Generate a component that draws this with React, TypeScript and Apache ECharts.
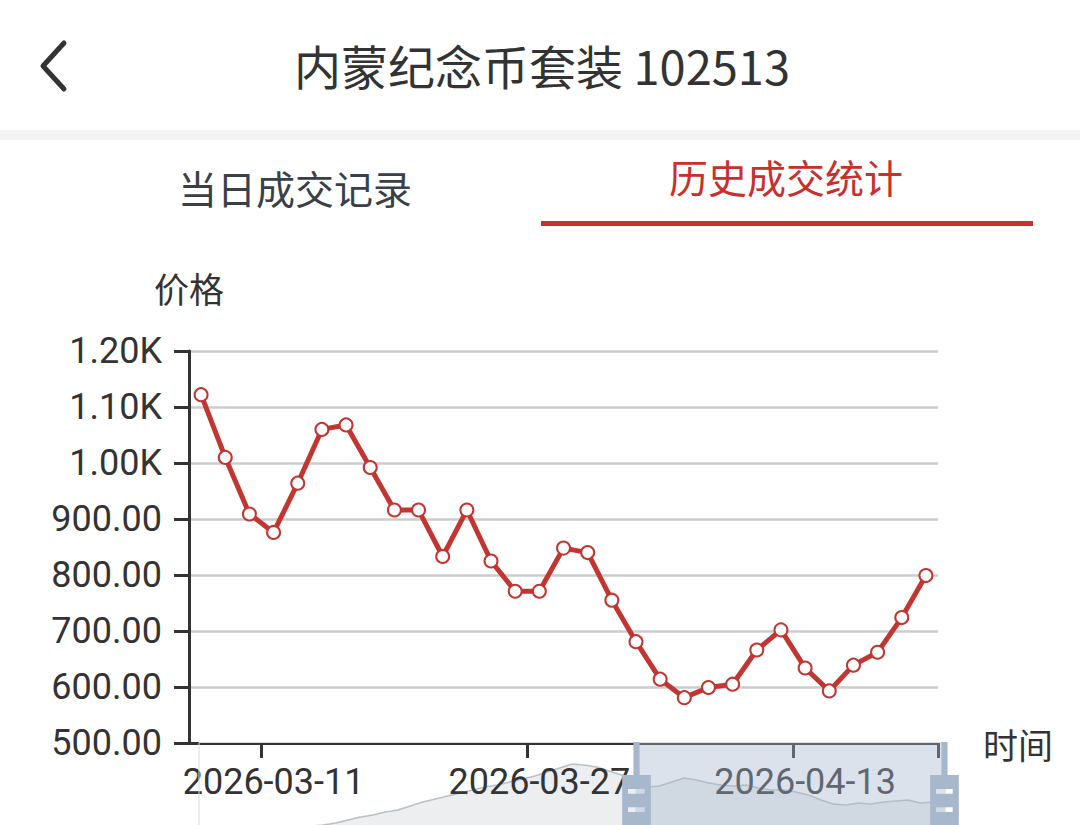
import React, { useEffect, useRef } from 'react';
import * as echarts from 'echarts';

const dates = [
  '2026-03-06', '2026-03-07', '2026-03-09', '2026-03-11', '2026-03-12', '2026-03-14',
  '2026-03-15', '2026-03-17', '2026-03-18', '2026-03-20', '2026-03-21', '2026-03-23',
  '2026-03-24', '2026-03-26', '2026-03-27', '2026-03-29', '2026-03-30', '2026-04-01',
  '2026-04-02', '2026-04-04', '2026-04-05', '2026-04-07', '2026-04-08', '2026-04-10',
  '2026-04-11', '2026-04-13', '2026-04-14', '2026-04-16', '2026-04-17', '2026-04-19',
  '2026-04-20',
];

const prices = [
  1122, 1010, 909, 876, 964, 1060, 1068, 992, 916, 916, 833, 916, 825, 771, 771, 848,
  840, 755, 681, 614, 581, 599, 605, 666, 702, 634, 593, 639, 662, 724, 799,
];

// longer history drawn only as the slider's data shadow
const shadowValues = [
  410, 400, 410, 420, 430, 440, 450, 470, 490, 510, 520, 540, 570, 600, 620, 650,
  670, 710, 750, 780, 810, 840, 870, 900, 920, 950, 980, 1010, 1050, 1090, 1130,
  1120, 1100, 1060, 1020, 960, 900, 910, 950, 990, 970, 940, 920, 910, 920, 890,
  870, 870, 850, 820, 770, 730, 720, 740, 730, 750, 760, 770, 740, 750, 790,
];
const shadowLabels = shadowValues.map((_, i) => String(i));

const labelledIndices = [3, 14, 25];
const yMin = 500;
const yMax = 1200;
const yStep = 100;
const zoomStart = 58.5;
const zoomEnd = 100;

const titleText = '内蒙纪念币套装 102513';
const tabLeft = '当日成交记录';
const tabRight = '历史成交统计';

const RED = '#c23531';
const TAB_RED = '#c9302c';
const FONT = 'Roboto, "Noto Sans CJK SC", sans-serif';
const CJK = '"Noto Sans CJK SC", sans-serif';

const V4_HANDLE =
  'path://M8.2,13.6V3.9H6.3v9.7H3.1v14.9h3.3v9.7h1.8v-9.7h3.3V13.6H8.2z M9.7,24.4H4.8v-1.4h4.9V24.4z M9.7,19.1H4.8v-1.4h4.9V19.1z';

function fmt(v: number) {
  if (v >= 1000) return (v / 1000).toFixed(2) + 'K';
  return v.toFixed(2);
}

export default function App() {
  const ref = useRef<HTMLDivElement>(null);
  useEffect(() => {
    const chart = echarts.init(ref.current!, null, { renderer: 'svg' });
    const shadowBg = {
      lineStyle: { color: '#2f4554', width: 1.5, opacity: 0.3 },
      areaStyle: { color: 'rgba(47,69,84,0.3)', opacity: 0.3 },
    };
    chart.setOption({
      animation: false,
      backgroundColor: '#fff',
      graphic: [
        {
          type: 'polyline',
          shape: { points: [[64, 43], [43, 66], [64, 89]] },
          style: { stroke: '#333', lineWidth: 5, lineCap: 'round', lineJoin: 'round', fill: 'none' },
        },
        {
          type: 'text',
          x: 542,
          y: 64,
          style: {
            text: titleText,
            fontSize: 47,
            fontFamily: CJK,
            fill: '#333',
            align: 'center',
            verticalAlign: 'middle',
          },
        },
        {
          type: 'rect',
          shape: { x: 0, y: 130, width: 1080, height: 10 },
          style: { fill: '#f4f4f4' },
        },
        {
          type: 'text',
          x: 295,
          y: 187,
          style: {
            text: tabLeft,
            fontSize: 39,
            fontFamily: CJK,
            fill: '#3a4048',
            align: 'center',
            verticalAlign: 'middle',
          },
        },
        {
          type: 'text',
          x: 786,
          y: 176,
          style: {
            text: tabRight,
            fontSize: 39,
            fontFamily: CJK,
            fill: TAB_RED,
            align: 'center',
            verticalAlign: 'middle',
          },
        },
        {
          type: 'rect',
          shape: { x: 541, y: 221, width: 492, height: 5 },
          style: { fill: TAB_RED },
        },
      ],
      grid: { left: 189, right: 142, top: 351, bottom: 82 },
      xAxis: [
        {
          type: 'category',
          data: dates,
          boundaryGap: true,
          name: '时间',
          nameLocation: 'end',
          nameGap: 45,
          nameTextStyle: { fontSize: 35, color: '#333', fontFamily: CJK },
          axisLine: { show: true, lineStyle: { color: '#333', width: 3 } },
          axisTick: {
            show: true,
            alignWithLabel: false,
            length: 15,
            lineStyle: { color: '#333', width: 3 },
            interval: (idx: number) => labelledIndices.includes(idx),
          },
          axisLabel: {
            show: true,
            interval: (idx: number) => labelledIndices.includes(idx),
            fontSize: 36,
            color: '#333',
            fontFamily: FONT,
            margin: 21,
          },
          splitLine: { show: false },
        },
        {
          type: 'category',
          data: shadowLabels,
          show: false,
          gridIndex: 0,
        },
      ],
      yAxis: [
        {
          type: 'value',
          min: yMin,
          max: yMax,
          interval: yStep,
          name: '价格',
          nameLocation: 'end',
          nameGap: 46,
          nameTextStyle: { fontSize: 35, color: '#333', fontFamily: CJK },
          axisLine: { show: true, lineStyle: { color: '#333', width: 3 } },
          axisTick: { show: true, length: 15, lineStyle: { color: '#333', width: 3 } },
          axisLabel: {
            formatter: fmt,
            fontSize: 36,
            color: '#333',
            fontFamily: FONT,
            margin: 27,
          },
          splitLine: { lineStyle: { color: '#ccc', width: 2.5 } },
        },
        { type: 'value', show: false, scale: true },
      ],
      dataZoom: [
        {
          type: 'slider',
          xAxisIndex: 1,
          start: zoomStart,
          end: zoomEnd,
          left: 196,
          right: 137,
          top: 742,
          height: 117,
          backgroundColor: 'rgba(47,69,84,0)',
          borderColor: '#ddd',
          fillerColor: 'rgba(167,183,204,0.4)',
          handleIcon: V4_HANDLE,
          handleSize: '100%',
          handleStyle: { color: '#a7b7cc', borderWidth: 0, opacity: 1 },
          moveHandleSize: 0,
          moveHandleStyle: { opacity: 0 },
          showDetail: false,
          brushSelect: false,
          dataBackground: shadowBg,
          selectedDataBackground: shadowBg,
          emphasis: { handleStyle: { color: '#a7b7cc', borderWidth: 0 } },
        },
      ],
      series: [
        {
          type: 'line',
          data: prices,
          xAxisIndex: 0,
          yAxisIndex: 0,
          symbol: 'emptyCircle',
          symbolSize: 13,
          showAllSymbol: true,
          lineStyle: { color: RED, width: 5 },
          itemStyle: { color: RED, borderColor: RED, borderWidth: 2.5 },
          z: 3,
        },
        {
          type: 'line',
          data: shadowValues,
          xAxisIndex: 1,
          yAxisIndex: 1,
          symbol: 'none',
          showSymbol: false,
          silent: true,
          lineStyle: { opacity: 0 },
        },
      ],
    });
    return () => chart.dispose();
  }, []);
  return (
    <div
      style={{
        position: 'absolute',
        left: 0,
        top: 0,
        width: 1080,
        height: 825,
        overflow: 'hidden',
        background: '#fff',
      }}
    >
      <div ref={ref} style={{ width: 1080, height: 825 }} />
    </div>
  );
}
